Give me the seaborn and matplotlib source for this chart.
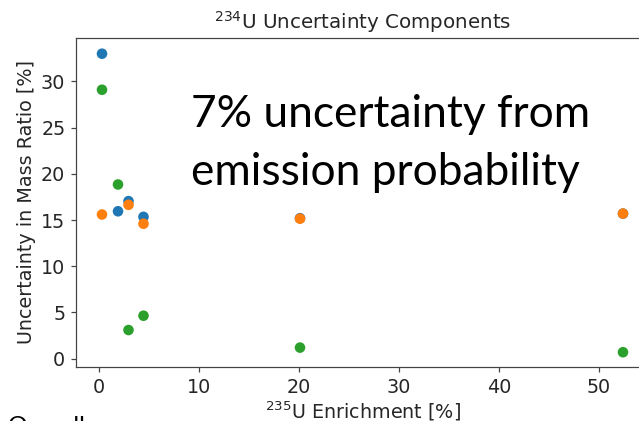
import matplotlib
matplotlib.use("Agg")
import matplotlib.pyplot as plt
import seaborn as sns
import pandas as pd

enrichment = [0.3, 1.9, 2.95, 4.45, 20.1, 52.4]
total = [33.0, 15.95, 17.05, 15.35, 15.2, 15.7]
counting = [15.6, None, 16.65, 14.6, 15.15, 15.7]
other = [29.1, 18.85, 3.1, 4.65, 1.2, 0.7]

rows = []
for name, vals in [("total", total), ("counting", counting), ("other", other)]:
    for x, v in zip(enrichment, vals):
        if v is not None:
            rows.append({"x": x, "y": v, "series": name})
df = pd.DataFrame(rows)

sns.set_style("ticks")
plt.rcParams['font.family'] = ['DejaVu Sans']
dpi = 110
fig = plt.figure(figsize=(639 / dpi, 421 / dpi), dpi=dpi)
ax = fig.add_axes([76 / 639, 1 - 367 / 421, (649 - 76) / 639, (367 - 38) / 421])
pal = ["#1f77b4", "#ff7f0e", "#2ca02c"]
sns.scatterplot(data=df, x="x", y="y", hue="series", palette=pal, s=48,
                linewidth=0, legend=False, ax=ax)
ax.set_xlim(-2.3, 55.0)
ax.set_ylim(-0.9, 34.7)
ax.set_xticks([0, 10, 20, 30, 40, 50])
ax.set_yticks([0, 5, 10, 15, 20, 25, 30])
for s in ax.spines.values():
    s.set_color("#444444")
ax.spines['right'].set_visible(False)
ax.tick_params(labelsize=12.5, color="#444444")
ax.set_xlabel(r"$^{235}$U Enrichment [%]", fontsize=12.5, labelpad=2)
ax.set_ylabel("Uncertainty in Mass Ratio [%]", fontsize=12.5, labelpad=3)
ax.set_title(r"$^{234}$U Uncertainty Components", fontsize=13, pad=6)

fig.text(191 / 639, 1 - 127 / 421, "7% uncertainty from", fontsize=29,
         family="Lato", color="black", ha="left", va="baseline")
fig.text(191 / 639, 1 - 185 / 421, "emission probability", fontsize=29,
         family="Lato", color="black", ha="left", va="baseline")
fig.text(8 / 639, 1 - 433 / 421, "Overall", fontsize=16, family="Lato",
         color="black", ha="left", va="baseline")

fig.savefig("out.png", dpi=dpi)
